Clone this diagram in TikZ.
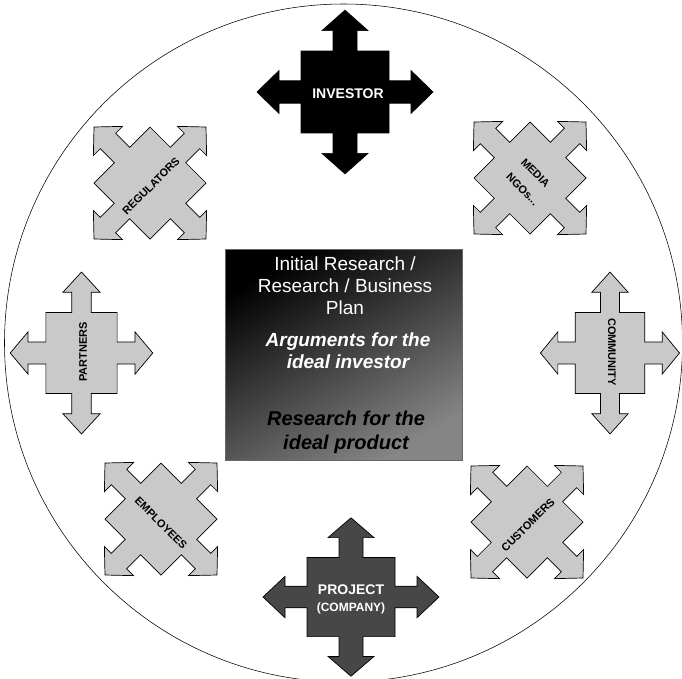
\documentclass[tikz,border=0pt]{standalone}
\usepackage{fontspec}
\setmainfont{Liberation Sans}
\tikzset{
  pics/fourarrow/.style={code={
    \path[pic actions] (44,44) -- (12,44) -- (12,66) -- (23,66) -- (0,88) -- (-23,66) -- (-12,66) -- (-12,44)
      -- (-44,44) -- (-44,12) -- (-66,12) -- (-66,23) -- (-88,0) -- (-66,-23) -- (-66,-12) -- (-44,-12)
      -- (-44,-44) -- (-12,-44) -- (-12,-66) -- (-23,-66) -- (0,-88) -- (23,-66) -- (12,-66) -- (12,-44)
      -- (44,-44) -- (44,-12) -- (66,-12) -- (66,-23) -- (88,0) -- (66,23) -- (66,12) -- (44,12) -- cycle;
  }},
  lightx/.style={fill=black!21, draw=black, line width=0.7pt, line join=miter},
  darkx/.style={fill=black!72, draw=black, line width=0.7pt},
  blackx/.style={fill=black, draw=black, line width=0.7pt},
  smalllabel/.style={font=\bfseries\fontsize{11}{12}\selectfont, text=black, inner sep=0pt},
  biglabel/.style={font=\bfseries\fontsize{14}{16}\selectfont, text=white, inner sep=0pt, align=center},
  planbox/.style={draw=black!60, line width=0.4pt, minimum width=237pt, minimum height=211pt,
    top color=black, bottom color=black!48, shading angle=30, inner sep=0pt}
}
\begin{document}
\begin{tikzpicture}[x=1pt,y=-1pt]
\useasboundingbox (0,0) rectangle (682,678);
\fill[white] (0,0) rectangle (682,678);
% outer circle
\draw[line width=0.55pt] (343.5,343) circle [radius=339pt];

% crosses
\pic[blackx, xscale=1, yscale=0.93] (inv) at (345,92) {fourarrow};
\pic[darkx, xscale=1, yscale=0.9] (prj) at (351,597) {fourarrow};
\pic[lightx, xscale=0.81, yscale=0.92] (par) at (81.5,353) {fourarrow};
\pic[lightx, xscale=0.79, yscale=0.92] (com) at (610,353) {fourarrow};
\pic[lightx, rotate=45, scale=0.9] (reg) at (150,183) {fourarrow};
\pic[lightx, rotate=45, scale=0.9] (med) at (530,178) {fourarrow};
\pic[lightx, rotate=45, scale=0.9] (emp) at (161,519) {fourarrow};
\pic[lightx, rotate=45, scale=0.9] (cus) at (527,522) {fourarrow};

% labels
\node[biglabel] (investor) at (348,94) {INVESTOR};
\node[biglabel] (project) at (351,590) {PROJECT};
\node[biglabel, font=\bfseries\fontsize{12}{14}\selectfont] (company) at (351,608) {(COMPANY)};
\node[smalllabel, rotate=90] (partners) at (83,352) {PARTNERS};
\node[smalllabel, rotate=-90] (community) at (612,352) {COMMUNITY};
\node[smalllabel, rotate=45] (regulators) at (151,186) {REGULATORS};
\node[smalllabel, rotate=-45, anchor=south west] (media) at (520,163) {MEDIA};
\node[smalllabel, rotate=-45, anchor=north west] (ngos) at (511,172) {NGOs...};
\node[smalllabel, rotate=-45] (employees) at (161,523) {EMPLOYEES};
\node[smalllabel, rotate=45] (customers) at (528,525) {CUSTOMERS};

% central plan box
\node[planbox] (plan) at (343.5,354.5) {};
\node[text=white, align=center, font=\fontsize{19}{22}\selectfont, inner sep=0pt] (research) at (345,286)
  {Initial Research /\\Research / Business\\Plan};
\node[text=white, align=center, font=\bfseries\itshape\fontsize{19}{22}\selectfont, inner sep=0pt] (arguments) at (348,351)
  {Arguments for the\\ideal investor};
\node[text=black, align=center, font=\bfseries\itshape\fontsize{20}{24}\selectfont, inner sep=0pt] (product) at (346,432)
  {Research for the\\ideal product};
\end{tikzpicture}
\end{document}
